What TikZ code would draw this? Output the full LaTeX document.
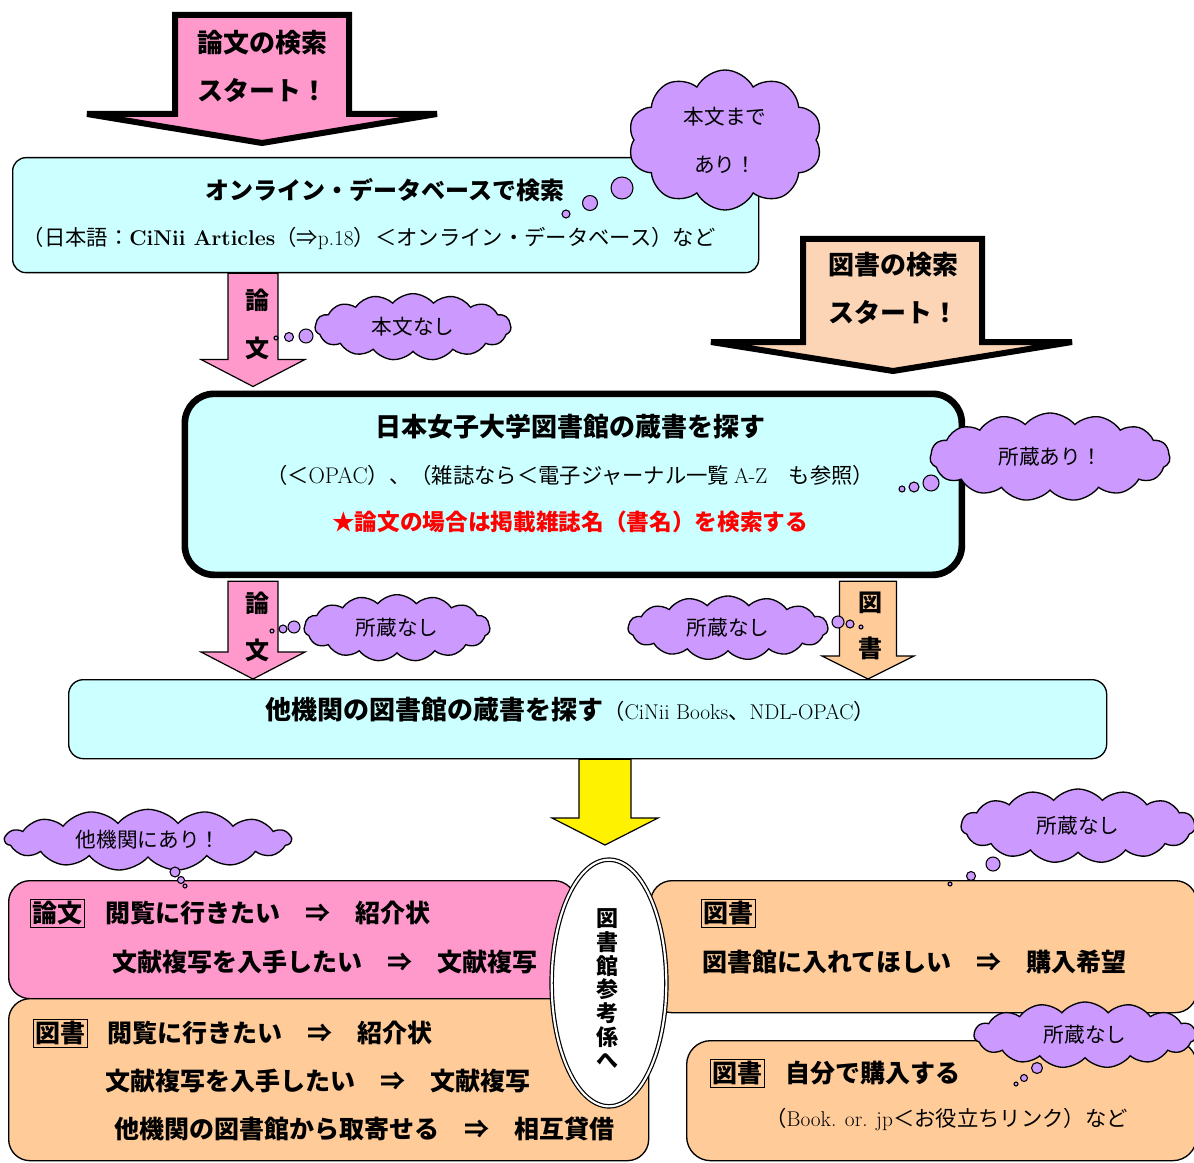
\documentclass[tikz,border=0pt]{standalone}
\usepackage{fontspec}
\newfontfamily\jp{Noto Sans CJK JP}
\usetikzlibrary{positioning,calc,shapes.symbols,shapes.geometric}

\definecolor{paperpink}{HTML}{FF99CC}
\definecolor{searchcyan}{HTML}{CCFFFF}
\definecolor{bookpeach}{HTML}{FFCC99}
\definecolor{startpeach}{HTML}{FBD5B5}
\definecolor{thinkpurple}{HTML}{CC99FF}

\tikzset{
  startarrow/.style={draw, line width=4.5pt, miter limit=4},
  flowarrow/.style={draw, line width=0.9pt},
  searchbox/.style={draw, line width=1pt, fill=searchcyan, rounded corners=10pt, anchor=north west, inner sep=0pt},
  usebox/.style={draw, line width=1pt, rounded corners=16pt, anchor=north west, inner sep=0pt},
  thought/.style={cloud, cloud puffs=15, cloud puff arc=100, cloud ignores aspect, draw, line width=1pt, fill=thinkpurple, inner sep=0pt, align=center, font=\jp\fontsize{15.5}{36}\selectfont},
  bubble/.style={circle, draw, line width=0.8pt, fill=thinkpurple, inner sep=0pt},
  headtext/.style={font=\jp\bfseries\fontsize{19.5}{24}\selectfont},
  bodytext/.style={font=\jp\fontsize{16}{20}\selectfont},
  arrowtext/.style={font=\jp\bfseries\fontsize{18}{22}\selectfont},
  usetext/.style={font=\jp\bfseries\fontsize{18.75}{22}\selectfont, anchor=west, inner sep=0pt},
  tag/.style={draw, line width=0.6pt, inner sep=1.5pt, font=\jp\bfseries\fontsize{18.75}{22}\selectfont},
}

\newcommand\blockarrow[6]{%
  \draw[#1] let \p1=#2, \p2=#3 in
    (\x1-#4,\y1) -- (\x1+#4,\y1) -- (\x1+#4,\y2+#6) -- (\x1+#5,\y2+#6)
    -- (\x1,\y2) -- (\x1-#5,\y2+#6) -- (\x1-#4,\y2+#6) -- cycle;}

\begin{document}
\begin{tikzpicture}[x=0.75pt,y=-0.75pt]
  \useasboundingbox (0,0) rectangle (1194,1162);
  \clip (0,0) rectangle (1194,1162);
  \fill[white] (0,0) rectangle (1194,1162);
  \coordinate (col-paper) at (253,0);
  \coordinate (col-book) at (868,0);
  \coordinate (col-ref) at (605,0);
  \coordinate (ref-top) at (605,845);

  \draw[startarrow, fill=paperpink] (175,15) -- (349,15) -- (349,114) -- (437,114)
    -- (262,143) -- (87,114) -- (175,114) -- cycle;
  \node[headtext] (paper-start) at (262,43) {論文の検索};
  \node[headtext] (paper-go) at (262,90) {スタート！};

  \node[searchbox, minimum width=559.5pt, minimum height=86.25pt] (online) at (12,157) {};
  \node[headtext, font=\jp\bfseries\fontsize{18}{22}\selectfont] (online-title) at (385,190) {オンライン・データベースで検索};
  \node[bodytext] (online-note) at (369,238)
    {（日本語：{\rmfamily\bfseries CiNii Articles}（⇒{\rmfamily p.18}）＜オンライン・データベース）など};

  \node[thought, cloud puffs=10, cloud puff arc=125, minimum width=145.5pt, minimum height=105pt] (fulltext) at (725,140) {本文まで\\あり！};
  \foreach \bx/\by/\bd [count=\i] in {622/188/22, 590/203/15, 566/214/8}
    \node[bubble, minimum size=\bd*0.75pt] (fulltext-bub-\i) at (\bx,\by) {};

  \draw[startarrow, fill=startpeach] (803,239) -- (982,239) -- (982,342) -- (1072,342)
    -- (893,371) -- (711,342) -- (803,342) -- cycle;
  \node[headtext] (book-start) at (893,265) {図書の検索};
  \node[headtext] (book-go) at (893,312) {スタート！};

  \node[searchbox, line width=5pt, rounded corners=22pt, minimum width=582.75pt, minimum height=135.75pt] (library) at (181.5,390.5) {};
  \node[headtext] (library-title) at (570,427) {日本女子大学図書館の蔵書を探す};
  \node[bodytext] (library-note) at (570,475)
    {（＜{\rmfamily\fontsize{17}{20}\selectfont OPAC}）、（雑誌なら＜電子ジャーナル一覧 {\rmfamily A-Z}　も参照）};
  \node[headtext, font=\jp\bfseries\fontsize{17}{21}\selectfont, text=red] (library-hint) at (570,522)
    {★論文の場合は掲載雑誌名（書名）を検索する};

  \blockarrow{flowarrow, fill=paperpink}{(online.south -| col-paper)}{($(library.north -| col-paper)+(0,-4)$)}{18.75pt}{39pt}{20.25pt}
  \node[arrowtext] (paper-a1) at (257,300) {論};
  \node[arrowtext] (paper-a2) at (257,348) {文};

  \node[thought, minimum width=147pt, minimum height=50pt] (nofull) at (413,327) {本文なし};
  \foreach \bx/\by/\bd [count=\i] in {306/336/14, 289/337/9, 276/338/4}
    \node[bubble, minimum size=\bd*0.75pt] (nofull-bub-\i) at (\bx,\by) {};

  \node[thought, minimum width=180pt, minimum height=66pt] (held) at (1050,457) {所蔵あり！};
  \foreach \bx/\by/\bd [count=\i] in {931/483/16, 914/487/10, 902/489/6}
    \node[bubble, minimum size=\bd*0.75pt] (held-bub-\i) at (\bx,\by) {};

  \node[searchbox, minimum width=778.5pt, minimum height=59.25pt, rounded corners=11pt] (ndl) at (68,679) {};
  \node[bodytext, anchor=west, inner sep=0pt] (ndl-text) at (265,710)
    {{\bfseries\fontsize{19.5}{24}\selectfont 他機関の図書館の蔵書を探す}（{\rmfamily CiNii Books}、{\rmfamily NDL-OPAC}）};

  \blockarrow{flowarrow, fill=paperpink}{($(library.south -| col-paper)+(0,3)$)}{(ndl.north -| col-paper)}{18.75pt}{39pt}{20.25pt}
  \node[arrowtext] (paper-b1) at (257,603) {論};
  \node[arrowtext] (paper-b2) at (257,650) {文};
  \blockarrow{flowarrow, fill=bookpeach}{($(library.south -| col-book)+(0,3)$)}{(ndl.north -| col-book)}{21.4pt}{34.5pt}{17.25pt}
  \node[arrowtext] (book-b1) at (870,603) {図};
  \node[arrowtext] (book-b2) at (870,648) {書};

  \node[thought, minimum width=139.5pt, minimum height=50pt] (paper-none) at (397,628) {所蔵なし};
  \foreach \bx/\by/\bd [count=\i] in {294/627/12, 283/629/8, 272/631/4}
    \node[bubble, minimum size=\bd*0.75pt] (paper-none-bub-\i) at (\bx,\by) {};
  \node[thought, minimum width=150pt, minimum height=48pt] (book-none) at (728,628) {所蔵なし};
  \foreach \bx/\by/\bd [count=\i] in {838/622/12, 850/624/8, 861/627/4}
    \node[bubble, minimum size=\bd*0.75pt] (book-none-bub-\i) at (\bx,\by) {};

  \blockarrow{flowarrow, fill=yellow}{(ndl.south -| col-ref)}{(ref-top)}{19.5pt}{39.75pt}{20.25pt}

  \node[usebox, fill=paperpink, minimum width=425.25pt, minimum height=88.5pt] (paper-use) at (8,880) {};
  \node[usebox, fill=bookpeach, minimum width=480pt, minimum height=121.5pt] (book-use) at (8,998) {};
  \node[usebox, fill=bookpeach, minimum width=409.5pt, minimum height=99pt] (request) at (650,880) {};
  \node[usebox, fill=bookpeach, minimum width=382.5pt, minimum height=90pt, rounded corners=18pt] (buy) at (686,1040) {};

  \node[tag] (paper-tag) at (57,913) {論文};
  \node[usetext] (paper-visit) at (105,913) {閲覧に行きたい　⇒　紹介状};
  \node[usetext] (paper-copy) at (112,962) {文献複写を入手したい　⇒　文献複写};
  \node[tag] (book-tag) at (60,1033) {図書};
  \node[usetext] (book-visit) at (107,1033) {閲覧に行きたい　⇒　紹介状};
  \node[usetext] (book-copy) at (105,1081) {文献複写を入手したい　⇒　文献複写};
  \node[usetext] (book-ill) at (114,1129) {他機関の図書館から取寄せる　⇒　相互貸借};
  \node[tag] (request-tag) at (728,913) {図書};
  \node[usetext] (request-text) at (702,962) {図書館に入れてほしい　⇒　購入希望};
  \node[tag] (buy-tag) at (737,1073) {図書};
  \node[usetext] (buy-text) at (785,1073) {自分で購入する};
  \node[bodytext, anchor=west, inner sep=0pt] (buy-note) at (765,1120)
    {（{\rmfamily Book. or. jp}＜お役立ちリンク）など};

  \node[ellipse, draw, double, double distance=1.6pt, line width=0.9pt, fill=white,
    minimum width=86pt, minimum height=185pt, inner sep=0pt] (refdesk) at (609,983) {};
  \node[font=\jp\bfseries\fontsize{16.5}{17.75}\selectfont, align=center, inner sep=0pt] (refdesk-text) at (607,989)
    {図\\書\\館\\参\\考\\係\\へ};

  \node[thought, minimum width=214.5pt, minimum height=46pt] (elsewhere) at (148,840) {他機関にあり！};
  \foreach \bx/\by/\bd [count=\i] in {175/872/10, 181/880/7, 185/886/4}
    \node[bubble, minimum size=\bd*0.75pt] (elsewhere-bub-\i) at (\bx,\by) {};
  \node[thought, minimum width=175.5pt, minimum height=55.5pt] (request-none) at (1078,826) {所蔵なし};
  \foreach \bx/\by/\bd [count=\i] in {993/864/14, 971/876/9, 950/884/4}
    \node[bubble, minimum size=\bd*0.75pt] (request-none-bub-\i) at (\bx,\by) {};
  \node[thought, minimum width=166.5pt, minimum height=49.5pt] (buy-none) at (1085,1035) {所蔵なし};
  \foreach \bx/\by/\bd [count=\i] in {1037/1068/11, 1024/1078/7, 1016/1084/4}
    \node[bubble, minimum size=\bd*0.75pt] (buy-none-bub-\i) at (\bx,\by) {};
\end{tikzpicture}
\end{document}
